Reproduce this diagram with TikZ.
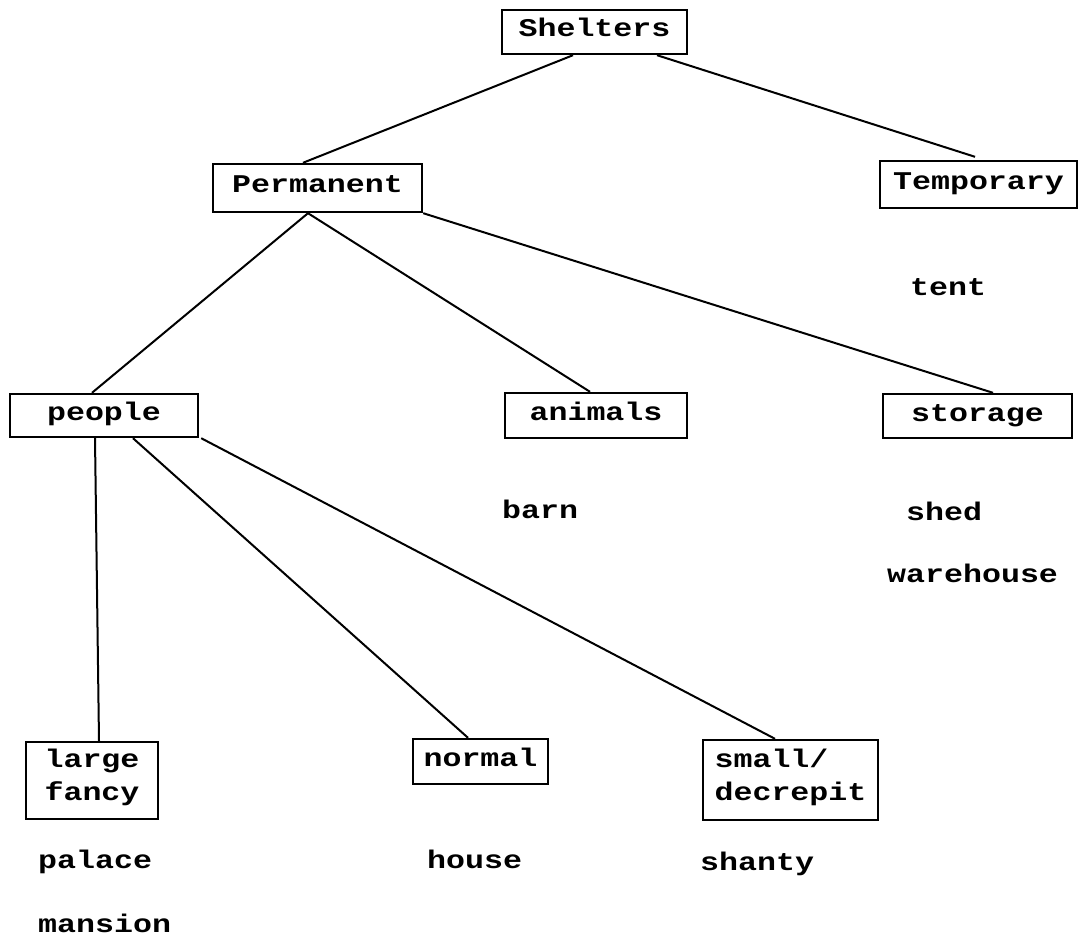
\documentclass[tikz,border=0pt]{standalone}
\usepackage{fontspec}
\newfontfamily\twfont{Liberation Mono}[FakeStretch=1.24]
\begin{document}
\begin{tikzpicture}[x=1pt,y=-1pt,
  twf/.style={font={\twfont\bfseries\fontsize{25.5}{33}\selectfont}},
  box/.style={twf, draw, line width=2.4pt, inner sep=0pt, text height=16pt, text depth=6pt},
  box2/.style={twf, draw, line width=2.4pt, inner sep=0pt, align=left, text depth=11pt},
  lbl/.style={twf, anchor=base west, inner sep=0pt},
  link/.style={line width=2pt}]
\useasboundingbox[fill=white] (0,0) rectangle (1079,939);

% boxes
\node[box, minimum width=185pt, minimum height=44pt] (shelters) at (594.5,32) {Shelters};
\node[box, minimum width=209pt, minimum height=48pt] (permanent) at (317.5,188) {Permanent};
\node[box, minimum width=197pt, minimum height=47pt] (temporary) at (978.5,184.5) {Temporary};
\node[box, minimum width=188pt, minimum height=43pt] (people) at (104,415.5) {people};
\node[box, minimum width=182pt, minimum height=45pt] (animals) at (596,415.5) {animals};
\node[box, minimum width=189pt, minimum height=44pt] (storage) at (977.5,416) {storage};
\node[box2, minimum width=132pt, minimum height=77pt] (large) at (92,780.5) {large\\fancy};
\node[box, minimum width=135pt, minimum height=45pt] (normal) at (480.5,761.5) {normal};
\node[box2, minimum width=175pt, minimum height=80pt] (small) at (790.5,780) {small/\\decrepit};

% leaf labels
\node[lbl] (tent) at (910,295) {tent};
\node[lbl] (barn) at (502,518) {barn};
\node[lbl] (shed) at (906,520) {shed};
\node[lbl] (warehouse) at (887,582) {warehouse};
\node[lbl] (palace) at (38,868) {palace};
\node[lbl] (mansion) at (38,932) {mansion};
\node[lbl] (house) at (427,868) {house};
\node[lbl] (shanty) at (700,870) {shanty};

% connectors
\draw[link] ([xshift=-21.5pt]shelters.south) -- ([xshift=-14.5pt]permanent.north);
\draw[link] ([xshift=62.5pt]shelters.south) -- ([xshift=-3.5pt,yshift=3pt]temporary.north);
\draw[link] ([xshift=-9.5pt]permanent.south) -- ([xshift=-12pt]people.north);
\draw[link] ([xshift=-9.5pt]permanent.south) -- ([xshift=-6pt]animals.north);
\draw[link] (permanent.south east) -- ([xshift=15.5pt]storage.north);
\draw[link] ([xshift=-9pt]people.south) -- ([xshift=7pt]large.north);
\draw[link] ([xshift=29pt]people.south) -- ([xshift=-12.5pt]normal.north);
\draw[link] ([xshift=2pt]people.south east) -- ([xshift=-15.5pt]small.north);
\end{tikzpicture}
\end{document}
